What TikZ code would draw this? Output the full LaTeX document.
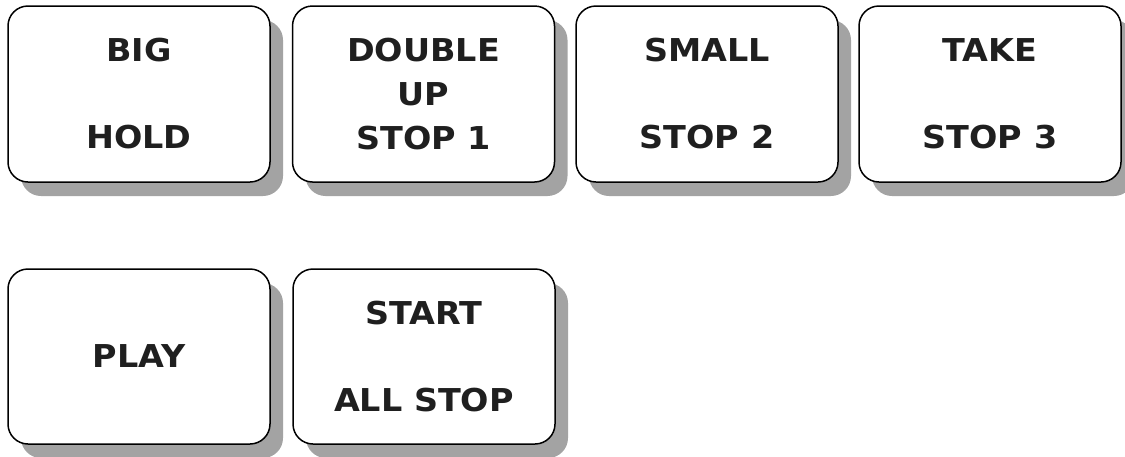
\documentclass[tikz,border=0pt]{standalone}
\usepackage{fontspec}
\setmainfont{DejaVu Sans}[FakeStretch=1.06]
\usetikzlibrary{shadows}
\tikzset{
  keybox/.style={draw=black, line width=1.5pt, fill=white, rounded corners=20pt,
    minimum width=262pt, minimum height=176pt, inner sep=0pt, align=center,
    text=black!88, font=\bfseries\fontsize{31.5}{44}\selectfont,
    drop shadow={shadow xshift=13pt, shadow yshift=-14pt, fill=black!36, opacity=1}}
}
\begin{document}
\begin{tikzpicture}[x=1pt,y=-1pt]
\useasboundingbox (0,0) rectangle (1125,456);
\node[keybox] (big)    at (139,94)   {BIG\\[43pt]HOLD};
\node[keybox] (double) at (423.5,94) {DOUBLE\\UP\\STOP 1};
\node[keybox] (small)  at (707,94)   {SMALL\\[43pt]STOP 2};
\node[keybox] (take)   at (990,94)   {TAKE\\[43pt]STOP 3};
\node[keybox, minimum height=175pt] (play)  at (139,356.5) {PLAY};
\node[keybox, minimum height=175pt] (start) at (424,356.5) {START\\[43pt]ALL STOP};
\end{tikzpicture}
\end{document}
